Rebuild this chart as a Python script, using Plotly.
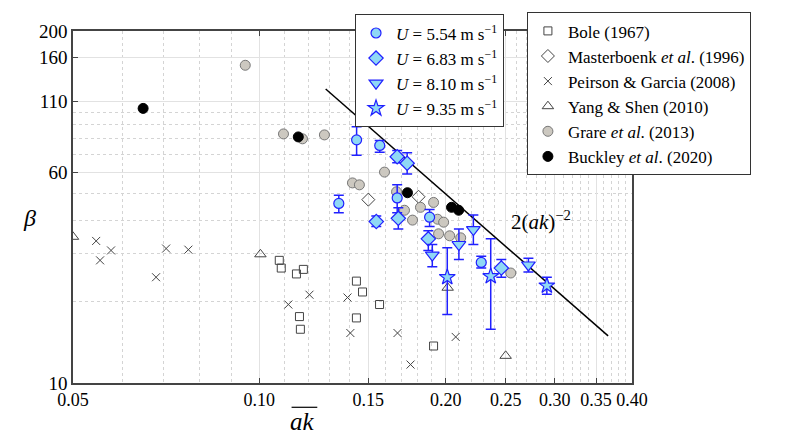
import numpy as np
import plotly.graph_objects as go

# ---------------- data ----------------
bole_ak = [0.1077, 0.1085, 0.1148, 0.1178, 0.1161, 0.1165, 0.1435, 0.1468, 0.1564, 0.1435, 0.1912]
bole_beta = [28.4, 26.6, 25.3, 26.3, 17.6, 15.8, 23.8, 21.7, 19.5, 17.4, 13.7]

mast_ak = [0.1500, 0.1808]
mast_beta = [47.6, 48.8]

peir_ak = [0.0545, 0.0553, 0.0576, 0.0681, 0.0707, 0.0768, 0.1114, 0.1205, 0.1388, 0.1403, 0.1672, 0.1755, 0.2076]
peir_beta = [33.5, 28.4, 30.9, 24.6, 31.4, 31.1, 19.5, 21.2, 20.7, 15.3, 15.3, 11.7, 14.8]

yang_ak = [0.0500, 0.1004, 0.2015, 0.2500]
yang_beta = [34.7, 29.9, 22.5, 12.6]

grare_ak = [0.0949, 0.1094, 0.1174, 0.1274, 0.1414, 0.1451, 0.1593, 0.1666, 0.1716, 0.1768,
            0.1821, 0.1912, 0.1941, 0.1985, 0.1948, 0.2030, 0.2115, 0.2548]
grare_beta = [149.4, 83.3, 79.9, 82.6, 54.9, 54.0, 60.2, 50.9, 43.5, 40.0,
              44.6, 46.5, 40.3, 39.3, 35.6, 35.0, 34.4, 25.5]

buck_ak = [0.0649, 0.1156, 0.1735, 0.2044, 0.2099]
buck_beta = [103.5, 81.2, 50.5, 44.6, 43.5]

u554_ak = [0.1344, 0.1436, 0.1565, 0.1670, 0.1884, 0.2283]
u554_beta = [46.1, 79.2, 75.5, 48.3, 41.0, 27.9]
u554_hi = [49.4, 88.5, 78.8, 54.1, 43.8, 29.4]
u554_lo = [42.6, 69.5, 71.3, 42.6, 37.9, 26.6]

u683_ak = [0.1545, 0.1670, 0.1677, 0.1733, 0.1875, 0.2460]
u683_beta = [39.5, 68.6, 40.6, 64.9, 34.1, 26.6]
u683_hi = [41.4, 72.4, 44.4, 70.9, 36.5, 28.6]
u683_lo = [37.9, 65.2, 37.1, 59.2, 30.9, 24.6]

u810_ak = [0.1903, 0.2101, 0.2217, 0.2721]
u810_beta = [29.7, 32.5, 36.9, 27.3]
u810_hi = [32.5, 37.1, 41.8, 28.9]
u810_lo = [26.9, 28.6, 32.5, 25.7]

u935_ak = [0.2012, 0.2365, 0.2914]
u935_beta = [24.6, 24.8, 22.9]
u935_hi = [31.6, 34.1, 24.6]
u935_lo = [17.9, 15.8, 21.3]

line_ak = [0.128, 0.366]

x_ticks = [0.05, 0.10, 0.15, 0.20, 0.25, 0.30, 0.35, 0.40]
x_ticktext = ["0.05", "0.10", "0.15", "0.20", "0.25", "0.30", "0.35", "0.40"]
x_minor = [0.06, 0.07, 0.08, 0.09, 0.11, 0.12, 0.13, 0.14, 0.16, 0.17, 0.18, 0.19,
           0.21, 0.22, 0.23, 0.24, 0.26, 0.27, 0.28, 0.29, 0.31, 0.32, 0.33, 0.34,
           0.36, 0.37, 0.38, 0.39]
y_ticks = [10, 60, 110, 160, 200]
y_minor = [20, 30, 40, 50, 70, 80, 90, 100]

# ---------------- styling ----------------
SERIF = "Liberation Serif"
GRAY = "#444444"
BLUE = "#2020ff"
CYAN = "#8fd8f5"

fig = go.Figure()

def open_trace(x, y, name, symbol, size):
    fig.add_trace(go.Scatter(
        x=x, y=y, mode="markers", name=name, legend="legend2",
        marker=dict(symbol=symbol, size=size, color=GRAY, line=dict(color=GRAY, width=1)),
    ))

open_trace(bole_ak, bole_beta, "Bole (1967)", "square-open", 8)
open_trace(mast_ak, mast_beta, "Masterboenk <i>et al</i>. (1996)", "diamond-open", 10)
open_trace(peir_ak, peir_beta, "Peirson &amp; Garcia (2008)", "x-thin-open", 8)
open_trace(yang_ak, yang_beta, "Yang &amp; Shen (2010)", "triangle-up-open", 10)

fig.add_trace(go.Scatter(
    x=grare_ak, y=grare_beta, mode="markers", name="Grare <i>et al</i>. (2013)", legend="legend2",
    marker=dict(symbol="circle", size=10, color="#ccc8c0", line=dict(color="#777777", width=1)),
))
fig.add_trace(go.Scatter(
    x=buck_ak, y=buck_beta, mode="markers", name="Buckley <i>et al</i>. (2020)", legend="legend2",
    marker=dict(symbol="circle", size=10, color="black", line=dict(color="black", width=1)),
))

# model line 2(ak)^-2
line_beta = [2.0 / a ** 2 for a in line_ak]
fig.add_trace(go.Scatter(x=line_ak, y=line_beta, mode="lines", showlegend=False,
                         line=dict(color="black", width=1.5)))

def blue_trace(x, y, hi, lo, name, symbol, size):
    fig.add_trace(go.Scatter(
        x=x, y=y, mode="markers", name=name, legend="legend",
        marker=dict(symbol=symbol, size=size, color=CYAN, line=dict(color=BLUE, width=1.2)),
        error_y=dict(type="data", symmetric=False,
                     array=[h - v for h, v in zip(hi, y)],
                     arrayminus=[v - l for v, l in zip(y, lo)],
                     color=BLUE, thickness=1.5, width=5),
    ))

blue_trace(u554_ak, u554_beta, u554_hi, u554_lo, "<i>U</i> = 5.54 m s<sup>−1</sup>", "circle", 10)
blue_trace(u683_ak, u683_beta, u683_hi, u683_lo, "<i>U</i> = 6.83 m s<sup>−1</sup>", "diamond", 11)
blue_trace(u810_ak, u810_beta, u810_hi, u810_lo, "<i>U</i> = 8.10 m s<sup>−1</sup>", "triangle-down", 12)
blue_trace(u935_ak, u935_beta, u935_hi, u935_lo, "<i>U</i> = 9.35 m s<sup>−1</sup>", "star", 12)

axis_common = dict(
    type="log", showgrid=True, gridcolor="#e2e2e2", gridwidth=1,
    ticks="inside", ticklen=5, tickcolor=GRAY, tickwidth=1,
    showline=True, linecolor=GRAY, linewidth=1.5, mirror="ticks",
    zeroline=False,
)

fig.update_layout(
    width=792, height=447,
    margin=dict(l=73, r=160, t=24, b=64),
    paper_bgcolor="white", plot_bgcolor="white",
    xaxis=dict(**axis_common, range=[np.log10(0.05), np.log10(0.40)], tickangle=0,
               tickfont=dict(family=SERIF, size=18, color="black"),
               tickmode="array", tickvals=x_ticks, ticktext=x_ticktext,
               minor=dict(tickmode="array", tickvals=x_minor, showgrid=True,
                          gridcolor="#d4d4d4", griddash="dot", gridwidth=1, ticks="")),
    yaxis=dict(**axis_common, range=[1, np.log10(200)],
               tickfont=dict(family=SERIF, size=19, color="black"),
               tickmode="array", tickvals=y_ticks, ticktext=[str(v) for v in y_ticks],
               minor=dict(tickmode="array", tickvals=y_minor, showgrid=True,
                          gridcolor="#d4d4d4", griddash="dot", gridwidth=1, ticks="")),
    legend=dict(x=0.5045, y=1.047, xanchor="left", yanchor="top",
                bgcolor="white", bordercolor="#333333", borderwidth=1,
                font=dict(family=SERIF, size=17, color="black"), tracegroupgap=0),
    legend2=dict(x=0.812, y=1.053, xanchor="left", yanchor="top",
                 bgcolor="white", bordercolor="#333333", borderwidth=1,
                 font=dict(family=SERIF, size=17, color="black"), tracegroupgap=0),
    annotations=[
        dict(text="<i>β</i>", x=-0.077, y=0.468, xref="paper", yref="paper",
             xanchor="center", yanchor="middle",
             showarrow=False, font=dict(family=SERIF, size=24, color="black")),
        dict(text="<i>ak</i>", x=0.41, y=-0.108, xref="paper", yref="paper",
             xanchor="center", yanchor="middle",
             showarrow=False, font=dict(family=SERIF, size=25, color="black")),
        dict(text="2(<i>ak</i>)<sup>−2</sup>", x=0.837, y=0.462, xref="paper", yref="paper",
             xanchor="center", yanchor="middle",
             showarrow=False, font=dict(family=SERIF, size=21, color="black")),
    ],
    shapes=[
        dict(type="line", xref="paper", yref="paper", x0=0.391, x1=0.437, y0=-0.069, y1=-0.069,
             line=dict(color="black", width=1.2)),
    ],
)

fig.write_html("out.html")
